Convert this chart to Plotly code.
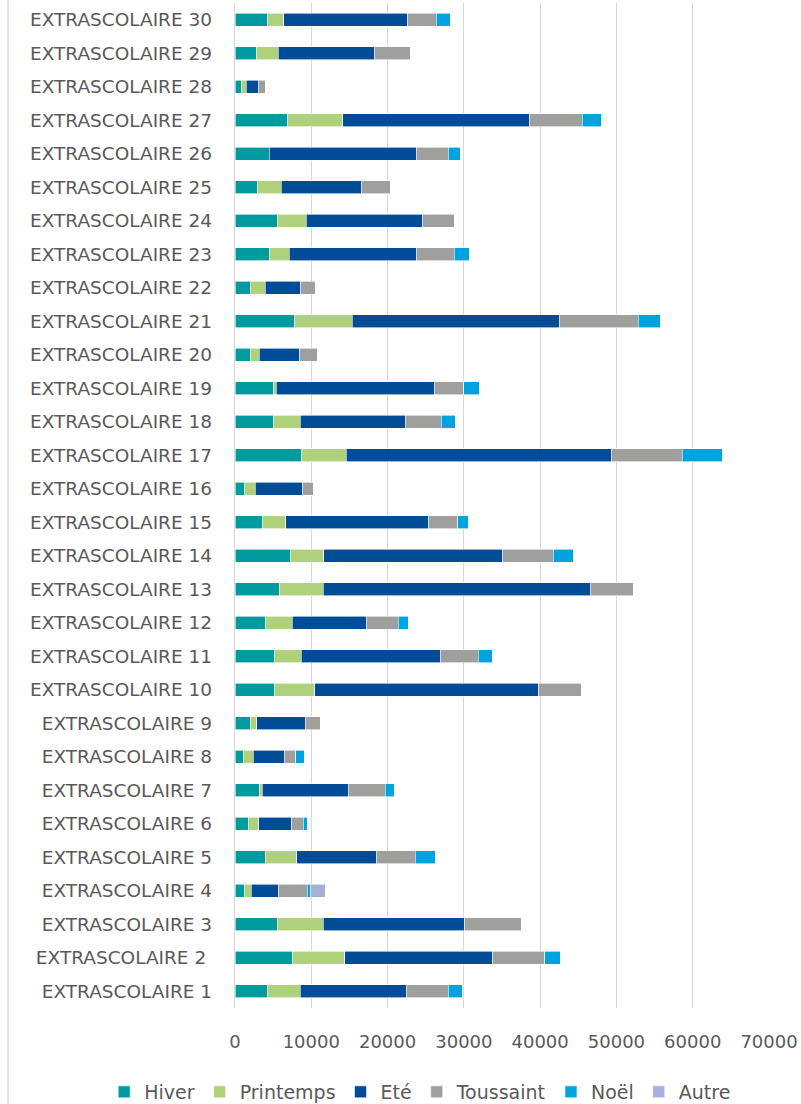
import plotly.graph_objects as go

categories = ["EXTRASCOLAIRE 1", "EXTRASCOLAIRE 2 ", "EXTRASCOLAIRE 3", "EXTRASCOLAIRE 4",
              "EXTRASCOLAIRE 5", "EXTRASCOLAIRE 6", "EXTRASCOLAIRE 7", "EXTRASCOLAIRE 8",
              "EXTRASCOLAIRE 9", "EXTRASCOLAIRE 10", "EXTRASCOLAIRE 11", "EXTRASCOLAIRE 12",
              "EXTRASCOLAIRE 13", "EXTRASCOLAIRE 14", "EXTRASCOLAIRE 15", "EXTRASCOLAIRE 16",
              "EXTRASCOLAIRE 17", "EXTRASCOLAIRE 18", "EXTRASCOLAIRE 19", "EXTRASCOLAIRE 20",
              "EXTRASCOLAIRE 21", "EXTRASCOLAIRE 22", "EXTRASCOLAIRE 23", "EXTRASCOLAIRE 24",
              "EXTRASCOLAIRE 25", "EXTRASCOLAIRE 26", "EXTRASCOLAIRE 27", "EXTRASCOLAIRE 28",
              "EXTRASCOLAIRE 29", "EXTRASCOLAIRE 30"]

hiver = [4200, 7500, 5550, 1270, 3980, 1750, 3230, 1090, 2010, 5240,
         5160, 4020, 5810, 7250, 3580, 1270, 8700, 5030, 5070, 2010,
         7780, 1970, 4500, 5550, 2930, 4460, 6900, 790, 2800, 4280]
printemps = [4370, 6860, 6030, 830, 4110, 1360, 350, 1310, 870, 5240,
             3540, 3500, 5730, 4410, 3100, 1360, 5900, 3540, 310, 1180,
             7600, 1970, 2620, 3800, 3100, 0, 7250, 660, 2840, 2100]
ete = [13900, 19450, 18530, 3630, 10440, 4330, 11280, 4060, 6340, 29320,
       18220, 9700, 35050, 23380, 18700, 6250, 34700, 13770, 20760, 5290,
       27140, 4630, 16610, 15210, 10530, 19320, 24470, 1620, 12630, 16260]
toussaint = [5460, 6770, 7470, 3710, 5070, 1490, 4810, 1530, 1970, 5640,
             4940, 4150, 5680, 6690, 3850, 1440, 9350, 4720, 3850, 2360,
             10310, 2010, 4980, 4150, 3760, 4150, 6900, 870, 4720, 3760]
noel = [1880, 2100, 0, 440, 2710, 520, 1220, 1090, 0, 0,
        1880, 1360, 0, 2670, 1440, 0, 5240, 1840, 2010, 0,
        2930, 0, 1970, 0, 0, 1620, 2540, 0, 0, 1840]
autre = [0, 0, 0, 1970, 0, 0, 0, 0, 0, 0,
         0, 0, 0, 0, 0, 0, 0, 0, 0, 0,
         0, 0, 0, 0, 0, 0, 0, 0, 0, 0]

x_ticks = [0, 10000, 20000, 30000, 40000, 50000, 60000, 70000]

series = [
    ("Hiver", hiver, "#009B9E"),
    ("Printemps", printemps, "#AFD17C"),
    ("Eté", ete, "#004C97"),
    ("Toussaint", toussaint, "#9F9F9E"),
    ("Noël", noel, "#00A3E0"),
    ("Autre", autre, "#A6AED9"),
]

fig = go.Figure()
for name, vals, col in series:
    fig.add_trace(go.Bar(
        y=categories, x=vals, name=name, orientation="h",
        marker=dict(color=col, line=dict(color="white", width=0.6)),
    ))

font_fam = "'DejaVu Sans', sans-serif"
fig.update_layout(
    barmode="stack",
    bargap=0.6,
    width=801, height=1104,
    margin=dict(l=235, r=32, t=3, b=96, autoexpand=False),
    paper_bgcolor="white", plot_bgcolor="white",
    font=dict(family=font_fam, size=18, color="#595959"),
    showlegend=True,
    legend=dict(orientation="h", xref="paper", x=-0.245, xanchor="left",
                yref="paper", y=-0.0836, yanchor="middle",
                font=dict(size=19, color="#595959"), traceorder="normal"),
    xaxis=dict(range=[0, 70000], tickvals=x_ticks, ticktext=[str(v) for v in x_ticks],
               showgrid=True, gridcolor="#D9D9D9", gridwidth=1.4, zeroline=False,
               showline=False, ticks="outside", ticklen=17, tickcolor="rgba(0,0,0,0)",
               tickfont=dict(size=18, color="#595959"), fixedrange=True),
    yaxis=dict(type="category", categoryorder="array", categoryarray=categories,
               showgrid=False, zeroline=False, showline=True, linecolor="#D9D9D9",
               linewidth=1.4, ticks="outside", ticklen=18, tickcolor="rgba(0,0,0,0)",
               tickfont=dict(size=18.5, color="#595959"), fixedrange=True),
    shapes=[dict(type="line", xref="paper", yref="paper", x0=-0.425, x1=-0.425,
                 y0=-0.1, y1=1.01, line=dict(color="#D9D9D9", width=1.5))],
)

fig.write_html("out.html", config={"displayModeBar": False},
               post_script="document.body.style.margin='0';")
